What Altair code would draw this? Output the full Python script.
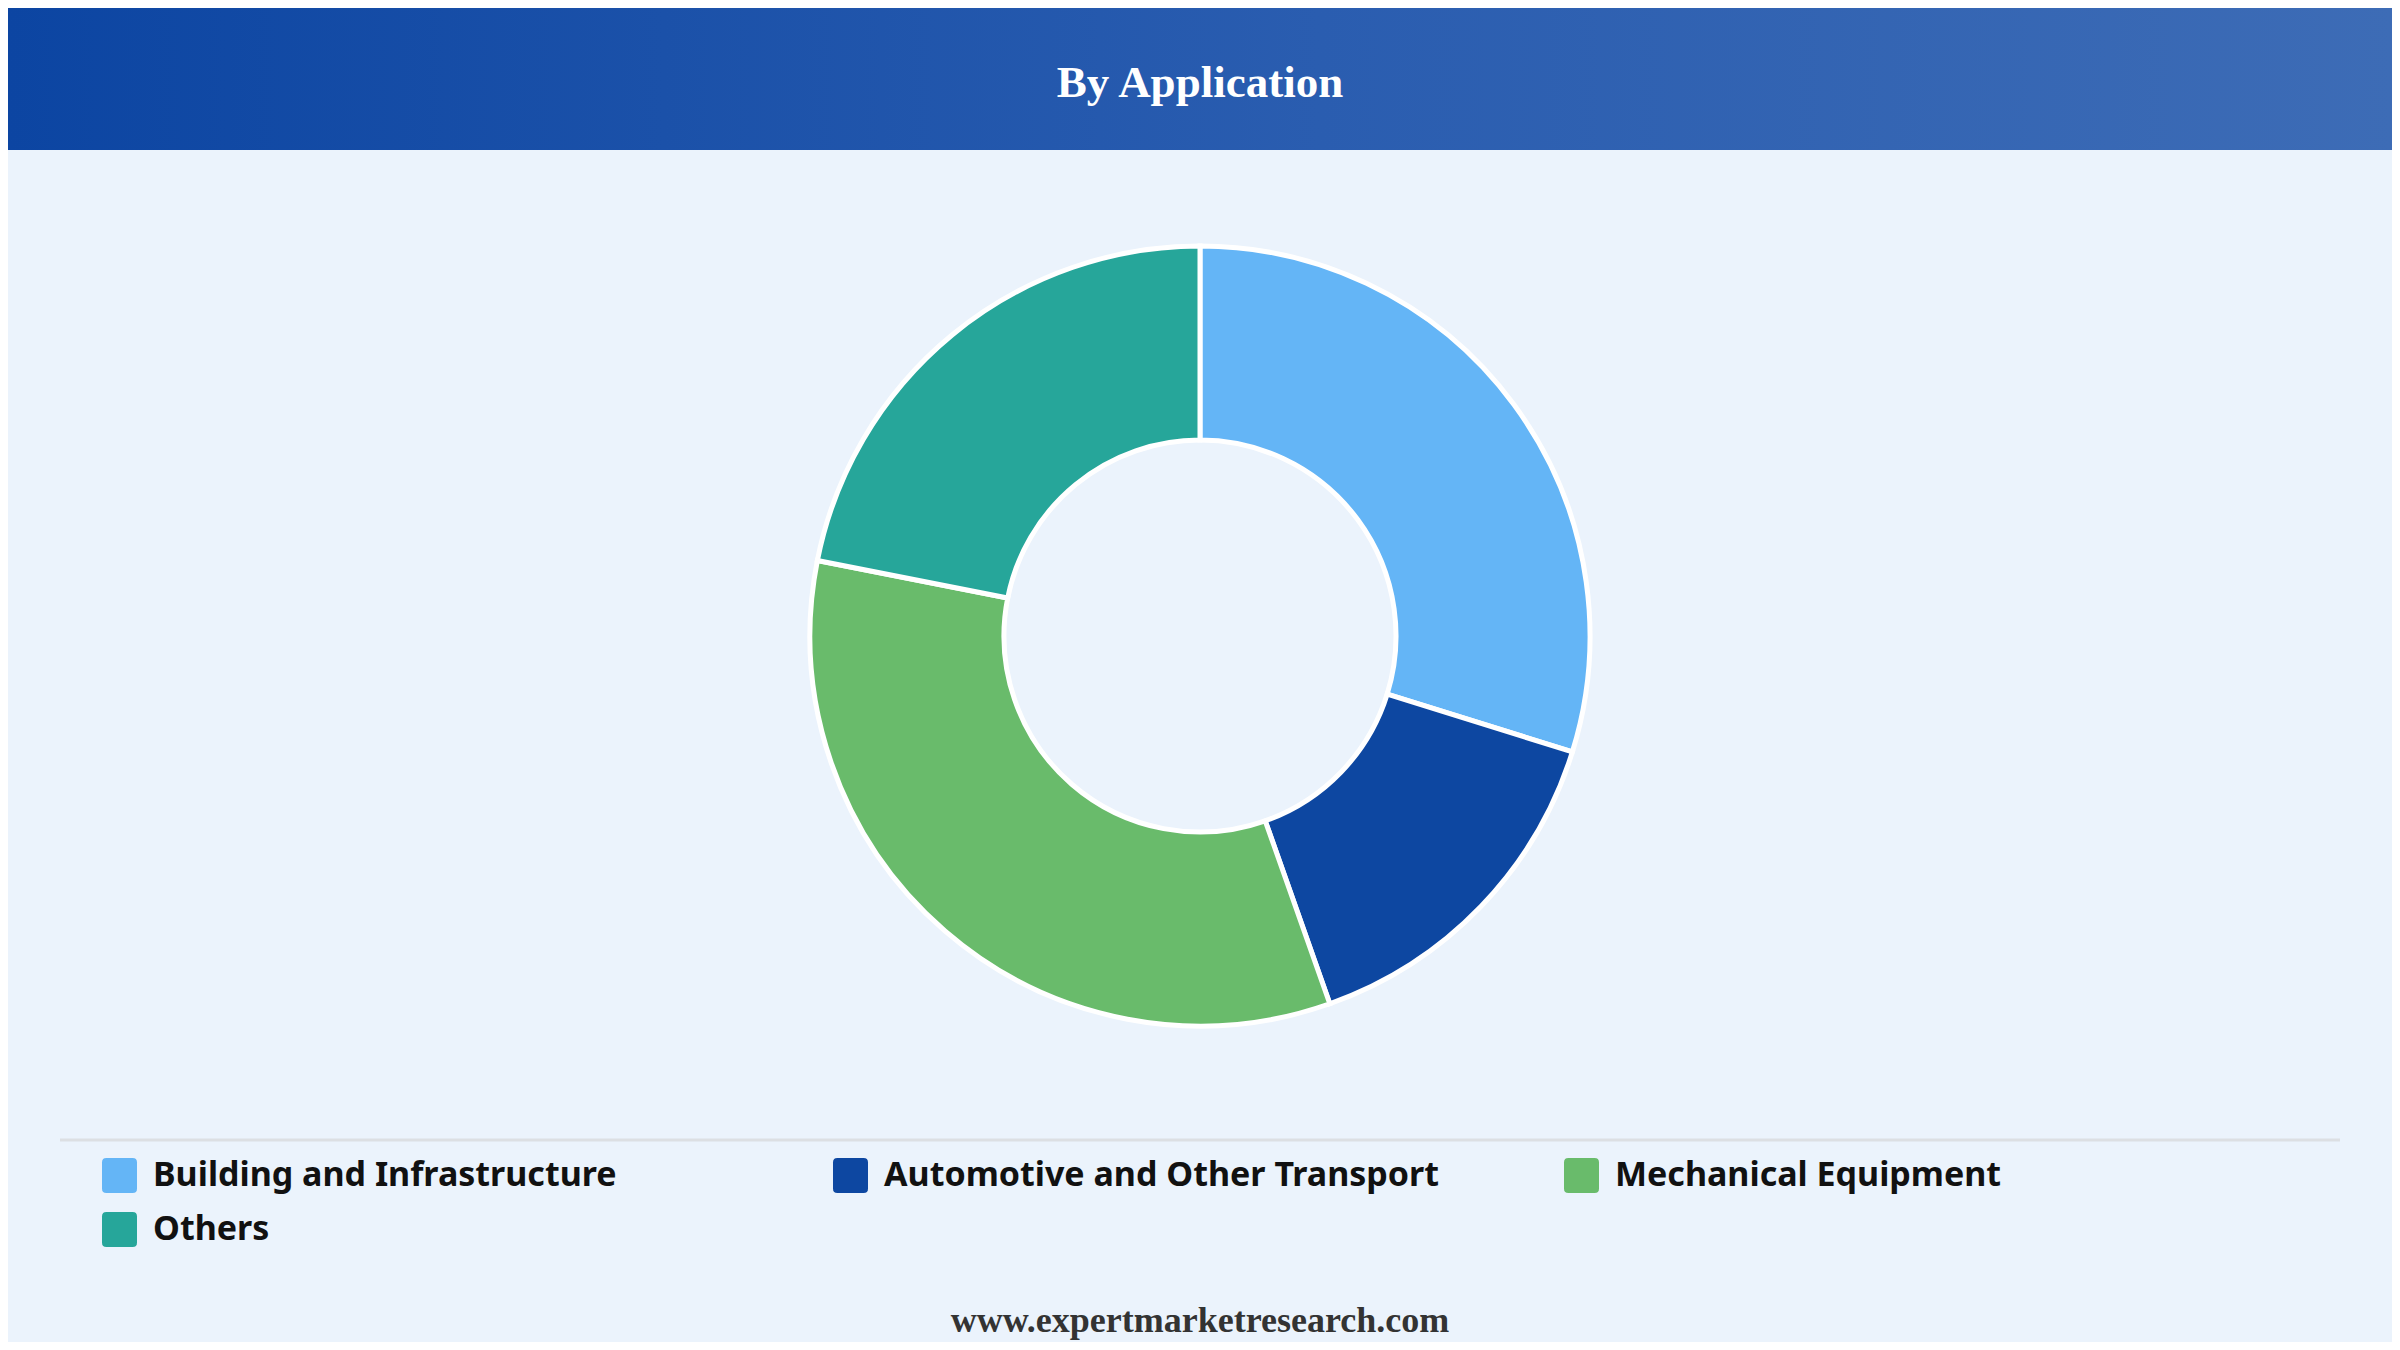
import altair as alt
import pandas as pd

# ---- data ----
categories = ["Building and Infrastructure", "Automotive and Other Transport",
              "Mechanical Equipment", "Others"]
values = [29.8, 14.8, 33.5, 21.9]
colors = ["#64B5F6", "#0D47A1", "#69BB6B", "#26A69A"]
title_text = ["By Application"]
footer_text = ["www.expertmarketresearch.com"]

W, H = 2384, 1334
BG = "#EBF3FC"

df = pd.DataFrame({"category": categories, "value": values,
                   "idx": list(range(len(categories)))})

one = pd.DataFrame({"t": [0]})

header = alt.Chart(one).mark_rect(
    color=alt.Gradient(gradient="linear",
                       stops=[alt.GradientStop(color="#0C45A2", offset=0),
                              alt.GradientStop(color="#2A5DB0", offset=0.55),
                              alt.GradientStop(color="#3D6CB6", offset=1)],
                       x1=0, x2=1, y1=0, y2=0)
).encode(x=alt.value(0), x2=alt.value(W), y=alt.value(0), y2=alt.value(142))

title = alt.Chart(pd.DataFrame({"t": title_text})).mark_text(
    font="Liberation Serif", fontSize=45, fontWeight="bold", color="white",
    align="center", baseline="alphabetic"
).encode(text="t:N", x=alt.value(W / 2), y=alt.value(89))

sep = alt.Chart(one).mark_rule(color="#DCDFE3", strokeWidth=3).encode(
    x=alt.value(52), x2=alt.value(2332), y=alt.value(1132))

rounded = ("M -0.75,-1 L 0.75,-1 Q 1,-1 1,-0.75 L 1,0.75 Q 1,1 0.75,1 "
           "L -0.75,1 Q -1,1 -1,0.75 L -1,-0.75 Q -1,-1 -0.75,-1 Z")

donut = alt.Chart(df).mark_arc(
    outerRadius=390, innerRadius=196, stroke="white", strokeWidth=5
).encode(
    theta=alt.Theta("value:Q", stack=True),
    order=alt.Order("idx:Q"),
    color=alt.Color("category:N",
                    scale=alt.Scale(domain=categories, range=colors),
                    sort=categories,
                    legend=alt.Legend(
                        title=None, orient="none", legendX=94, legendY=1150,
                        direction="horizontal", columns=3, gridAlign="all",
                        columnPadding=124, rowPadding=19, padding=0,
                        symbolType=rounded, symbolSize=1225,
                        symbolStrokeWidth=0, symbolOpacity=1,
                        labelFont="Noto Sans", labelFontSize=34,
                        labelFontWeight="bold", labelColor="#111111",
                        labelOffset=16, labelLimit=0)),
    x=alt.value(1192), y=alt.value(628),
)

footer = alt.Chart(pd.DataFrame({"t": footer_text})).mark_text(
    font="Liberation Serif", fontSize=36, fontWeight="bold", color="#333333",
    align="center", baseline="alphabetic"
).encode(text="t:N", x=alt.value(W / 2), y=alt.value(1324))

chart = alt.layer(header, title, sep, donut, footer).properties(
    width=W, height=H, background=BG, padding=0,
    autosize=alt.AutoSizeParams(type="fit", contains="padding")
).configure_view(stroke=None)

chart.save("out.html", embed_options={"renderer": "svg", "actions": False})
